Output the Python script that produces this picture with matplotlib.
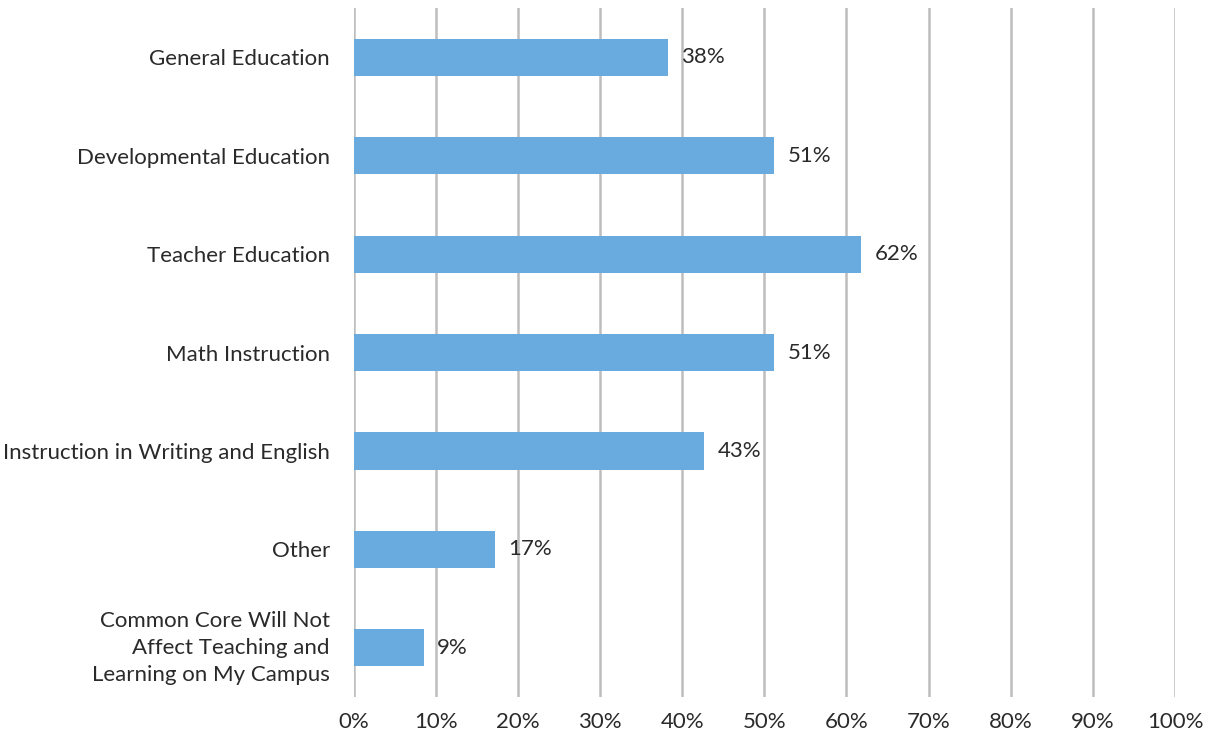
import matplotlib
matplotlib.use("Agg")
import matplotlib.pyplot as plt
from matplotlib.ticker import FuncFormatter

categories = [
    "General Education",
    "Developmental Education",
    "Teacher Education",
    "Math Instruction",
    "Instruction in Writing and English",
    "Other",
    "Common Core Will Not\nAffect Teaching and\nLearning on My Campus",
]
values = [38.3, 51.2, 61.8, 51.2, 42.7, 17.2, 8.6]
labels = ["38%", "51%", "62%", "51%", "43%", "17%", "9%"]
xticks = list(range(0, 101, 10))

plt.rcParams['font.family'] = ['Lato', 'DejaVu Sans']
fig = plt.figure(figsize=(12.19, 7.33), dpi=100)
ax = fig.add_axes([0.290, 0.049, 0.674, 0.940])

TXT = "#2a2a2a"
FS = 16
ypos = list(range(len(categories)))
ax.barh(ypos, values, height=0.376, color="#6aabdf", zorder=3)
for y, v, lab in zip(ypos, values, labels):
    ax.text(v + 1.6, y, lab, va="center", ha="left", fontsize=FS, color=TXT)

ax.set_xlim(0, 100)
ax.set_ylim(6.5, -0.5)
ax.set_xticks(xticks)
ax.xaxis.set_major_formatter(FuncFormatter(lambda x, p: f"{int(x)}%"))
ax.set_yticks(ypos)
ax.set_yticklabels(categories, fontsize=FS, color=TXT, linespacing=1.45)
for lab in ax.get_yticklabels():
    lab.set_horizontalalignment("right")
    if "\n" in lab.get_text():
        lab.set_verticalalignment("center")
ax.tick_params(axis="x", labelsize=FS, labelcolor=TXT, length=0, pad=11)
ax.tick_params(axis="y", length=0, pad=17)
ax.grid(axis="x", color="#bdbdbd", linewidth=1.8, zorder=0)
for s in ax.spines.values():
    s.set_visible(False)

fig.savefig("out.png", dpi=100)
